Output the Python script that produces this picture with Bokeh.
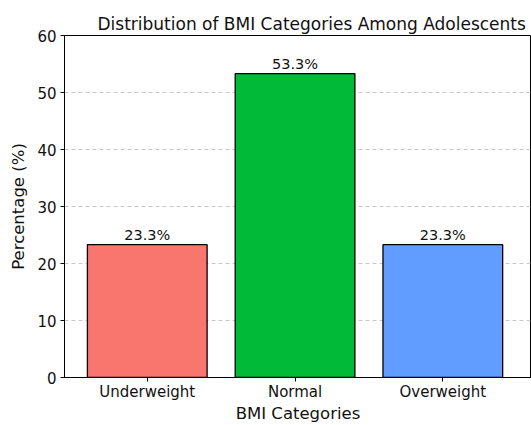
from bokeh.plotting import figure
from bokeh.models import Range1d, FixedTicker, ColumnDataSource
from bokeh.embed import file_html
from bokeh.resources import INLINE
from bokeh.core.properties import value

categories = ["Underweight", "Normal", "Overweight"]
percentages = [23.3, 53.3, 23.3]
colors = ["#F8766D", "#00BA38", "#619CFF"]
y_ticks = [0, 10, 20, 30, 40, 50, 60]

xs = list(range(len(categories)))
labels = [f"{v:.1f}%" for v in percentages]
src = ColumnDataSource(dict(x=xs, top=percentages, color=colors, label=labels))

FONT = "DejaVu Sans"
p = figure(width=531, height=425, output_backend="svg", toolbar_location=None,
           x_range=Range1d(-0.56, 2.6), y_range=Range1d(0, 60),
           min_border_left=64, min_border_right=0, min_border_top=35, min_border_bottom=47)
p.title.text = "Distribution of BMI Categories Among Adolescents"
p.title.text_font = FONT
p.title.text_font_size = "17px"
p.title.text_font_style = "normal"
p.title.align = "left"
p.title.offset = 33
p.title.standoff = 4
p.title.text_color = "#111111"

p.vbar(x="x", top="top", width=0.81, fill_color="color", line_color="black",
       line_width=1.3, source=src)
p.text(x="x", y="top", text="label", source=src, text_align="center",
       text_baseline="bottom", y_offset=-2, text_font=value(FONT),
       text_font_size="14.5px", text_color="#111111")

p.xaxis.ticker = FixedTicker(ticks=xs)
p.xaxis.major_label_overrides = {i: c for i, c in enumerate(categories)}
p.yaxis.ticker = FixedTicker(ticks=y_ticks)
p.xaxis.axis_label = "BMI Categories"
p.yaxis.axis_label = "Percentage (%)"
for ax in (p.xaxis, p.yaxis):
    ax.axis_label_text_font = FONT
    ax.axis_label_text_font_size = "16.5px"
    ax.axis_label_text_font_style = "normal"
    ax.axis_label_text_color = "#111111"
    ax.major_label_text_font = FONT
    ax.major_label_text_font_size = "15px"
    ax.major_label_text_color = "#111111"
    ax.axis_line_color = "black"
    ax.major_tick_line_color = "black"
    ax.major_tick_in = 0
    ax.major_tick_out = 4
    ax.minor_tick_line_color = None
p.xaxis.major_label_standoff = 1
p.xaxis.axis_label_standoff = 0
p.yaxis.major_label_standoff = 4
p.yaxis.axis_label_standoff = 6

p.xgrid.grid_line_color = None
p.ygrid.grid_line_color = "#b0b0b0"
p.ygrid.grid_line_alpha = 0.7
p.ygrid.grid_line_dash = "4 3"
p.outline_line_color = "black"
p.outline_line_alpha = 1.0

open("out.html", "w").write(file_html(p, INLINE))
